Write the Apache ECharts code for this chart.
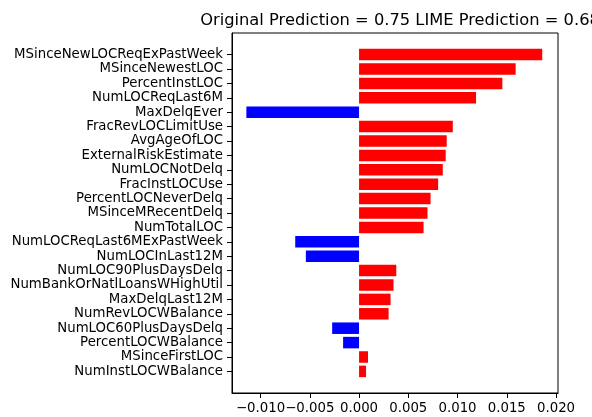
<!DOCTYPE html>
<html>
<head>
<meta charset="utf-8">
<script src="https://cdn.jsdelivr.net/npm/echarts@6/dist/echarts.min.js"></script>
<style>html,body{margin:0;padding:0;background:#fff}#c{width:592px;height:417px}</style>
</head>
<body>
<div id="c"></div>
<script>
const titleText = 'Original Prediction = 0.75 LIME Prediction = 0.68';
const categories = [
  'MSinceNewLOCReqExPastWeek','MSinceNewestLOC','PercentInstLOC','NumLOCReqLast6M',
  'MaxDelqEver','FracRevLOCLimitUse','AvgAgeOfLOC','ExternalRiskEstimate',
  'NumLOCNotDelq','FracInstLOCUse','PercentLOCNeverDelq','MSinceMRecentDelq',
  'NumTotalLOC','NumLOCReqLast6MExPastWeek','NumLOCInLast12M','NumLOC90PlusDaysDelq',
  'NumBankOrNatlLoansWHighUtil','MaxDelqLast12M','NumRevLOCWBalance','NumLOC60PlusDaysDelq',
  'PercentLOCWBalance','MSinceFirstLOC','NumInstLOCWBalance'
];
const values = [
  0.0186, 0.0159, 0.01455, 0.01188,
  -0.01144, 0.00952, 0.0089, 0.0088,
  0.0085, 0.00803, 0.00726, 0.00695,
  0.00655, -0.00648, -0.0054, 0.00378,
  0.0035, 0.0032, 0.0030, -0.00273,
  -0.00162, 0.00091, 0.00071
];
const xTicks = [-0.01, -0.005, 0, 0.005, 0.01, 0.015, 0.02];
const xMin = -0.0129, xMax = 0.0202;

const axisCats = [''].concat(categories, ['']);
const barData = [null].concat(values.map(v => ({
  value: v,
  itemStyle: { color: v >= 0 ? '#ff0000' : '#0000ff' }
})), [null]);

const font = 'DejaVu Sans';
const chart = echarts.init(document.getElementById('c'), null, { renderer: 'canvas' });
chart.setOption({
  animation: false,
  backgroundColor: '#fff',
  title: {
    text: titleText,
    left: 395, top: 8,
    textAlign: 'center',
    textStyle: { fontFamily: font, fontSize: 16.3, fontWeight: 'normal', color: '#000' }
  },
  grid: {
    left: 232, right: 34, top: 33, bottom: 24,
    show: true, borderColor: '#000', borderWidth: 1, backgroundColor: 'transparent'
  },
  xAxis: {
    type: 'value', min: xMin, max: xMax,
    splitLine: { show: false },
    axisLine: { show: true, onZero: false, lineStyle: { color: '#000', width: 1 } },
    axisTick: { show: true, length: 5, lineStyle: { color: '#000' }, customValues: xTicks },
    axisLabel: {
      customValues: xTicks, margin: 9,
      fontFamily: font, fontSize: 13.3, color: '#000',
      formatter: v => (v < 0 ? '\u2212' : '') + Math.abs(v).toFixed(3)
    }
  },
  yAxis: {
    type: 'category', data: axisCats, inverse: true,
    axisLine: { show: true, onZero: false, lineStyle: { color: '#000', width: 1 } },
    axisTick: { show: true, alignWithLabel: true, length: 5, lineStyle: { color: '#000' },
      interval: (i, v) => v !== '' },
    axisLabel: { interval: 0, margin: 9, fontFamily: font, fontSize: 13.3, color: '#000' },
    splitLine: { show: false }
  },
  series: [{
    type: 'bar', data: barData, barWidth: '80%'
  }]
});
</script>
</body>
</html>
